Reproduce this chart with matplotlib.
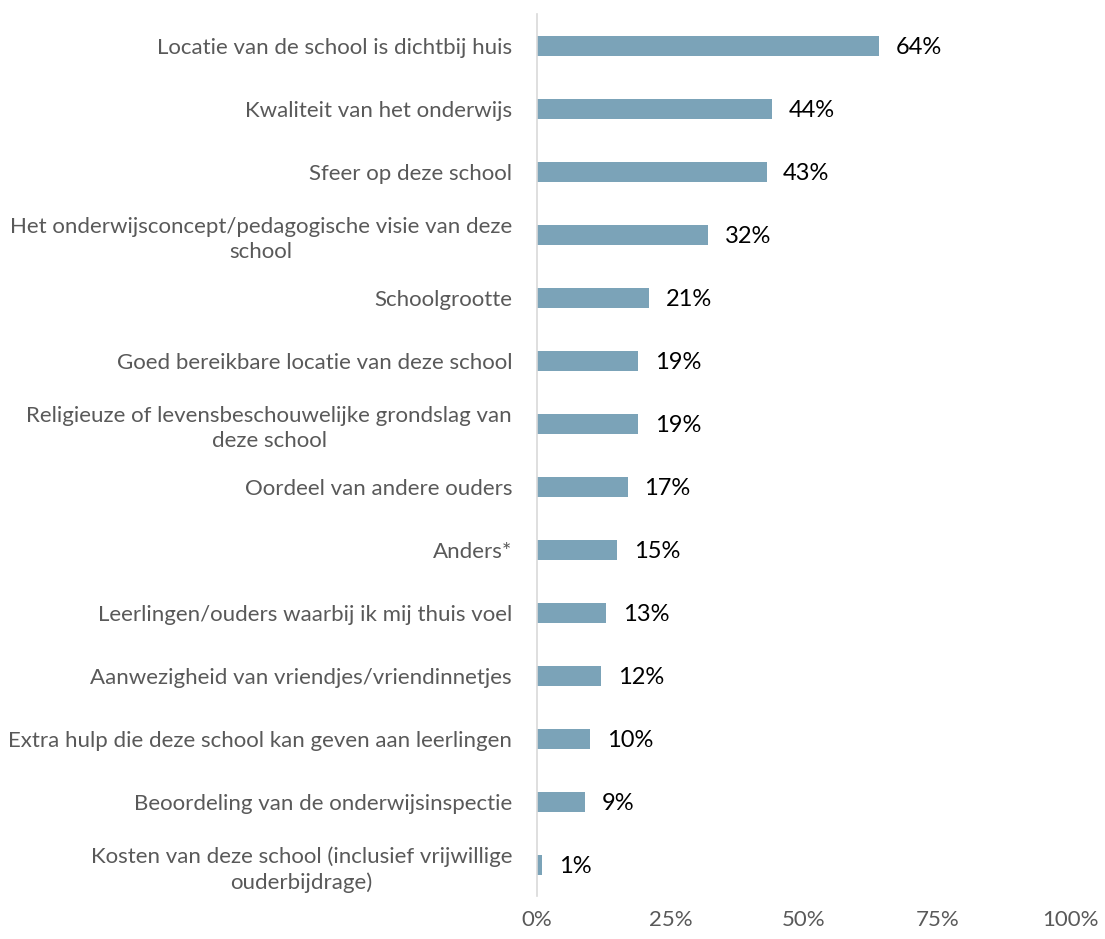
import matplotlib as mpl
mpl.use('Agg')
import matplotlib.pyplot as plt

plt.rcParams['font.family'] = ['Lato', 'DejaVu Sans']

categories = [
    "Locatie van de school is dichtbij huis",
    "Kwaliteit van het onderwijs",
    "Sfeer op deze school",
    "Het onderwijsconcept/pedagogische visie van deze\nschool",
    "Schoolgrootte",
    "Goed bereikbare locatie van deze school",
    "Religieuze of levensbeschouwelijke grondslag van\ndeze school",
    "Oordeel van andere ouders",
    "Anders*",
    "Leerlingen/ouders waarbij ik mij thuis voel",
    "Aanwezigheid van vriendjes/vriendinnetjes",
    "Extra hulp die deze school kan geven aan leerlingen",
    "Beoordeling van de onderwijsinspectie",
    "Kosten van deze school (inclusief vrijwillige\nouderbijdrage)",
]
values = [64, 44, 43, 32, 21, 19, 19, 17, 15, 13, 12, 10, 9, 1]
xticks = [0, 25, 50, 75, 100]

fig = plt.figure(figsize=(11.05, 9.39), dpi=100)
ax = fig.add_axes([0.486, 0.0453, 0.483, 0.9393])

ypos = list(range(len(categories)))
bars = ax.barh(ypos, values, height=0.32, color='#7BA3B8')
ax.set_ylim(len(categories) - 0.5, -0.5)
ax.set_xlim(0, 100)

for y, v in zip(ypos, values):
    ax.annotate(f"{v}%", xy=(v, y), xytext=(12, -1), textcoords='offset points',
                va='center', ha='left', fontsize=17, color='black')

ax.set_yticks(ypos)
ax.set_yticklabels(categories, fontsize=16, color='#595959',
                   multialignment='center', linespacing=1.3)
ax.set_xticks(xticks)
ax.set_xticklabels([f"{t}%" for t in xticks], fontsize=16, color='#595959')
ax.tick_params(axis='both', length=0)
ax.tick_params(axis='y', pad=18)
ax.tick_params(axis='x', pad=10)

for s in ['top', 'right', 'bottom']:
    ax.spines[s].set_visible(False)
ax.spines['left'].set_color('#D9D9D9')
ax.spines['left'].set_linewidth(1.2)

fig.savefig('out.png', dpi=100)
